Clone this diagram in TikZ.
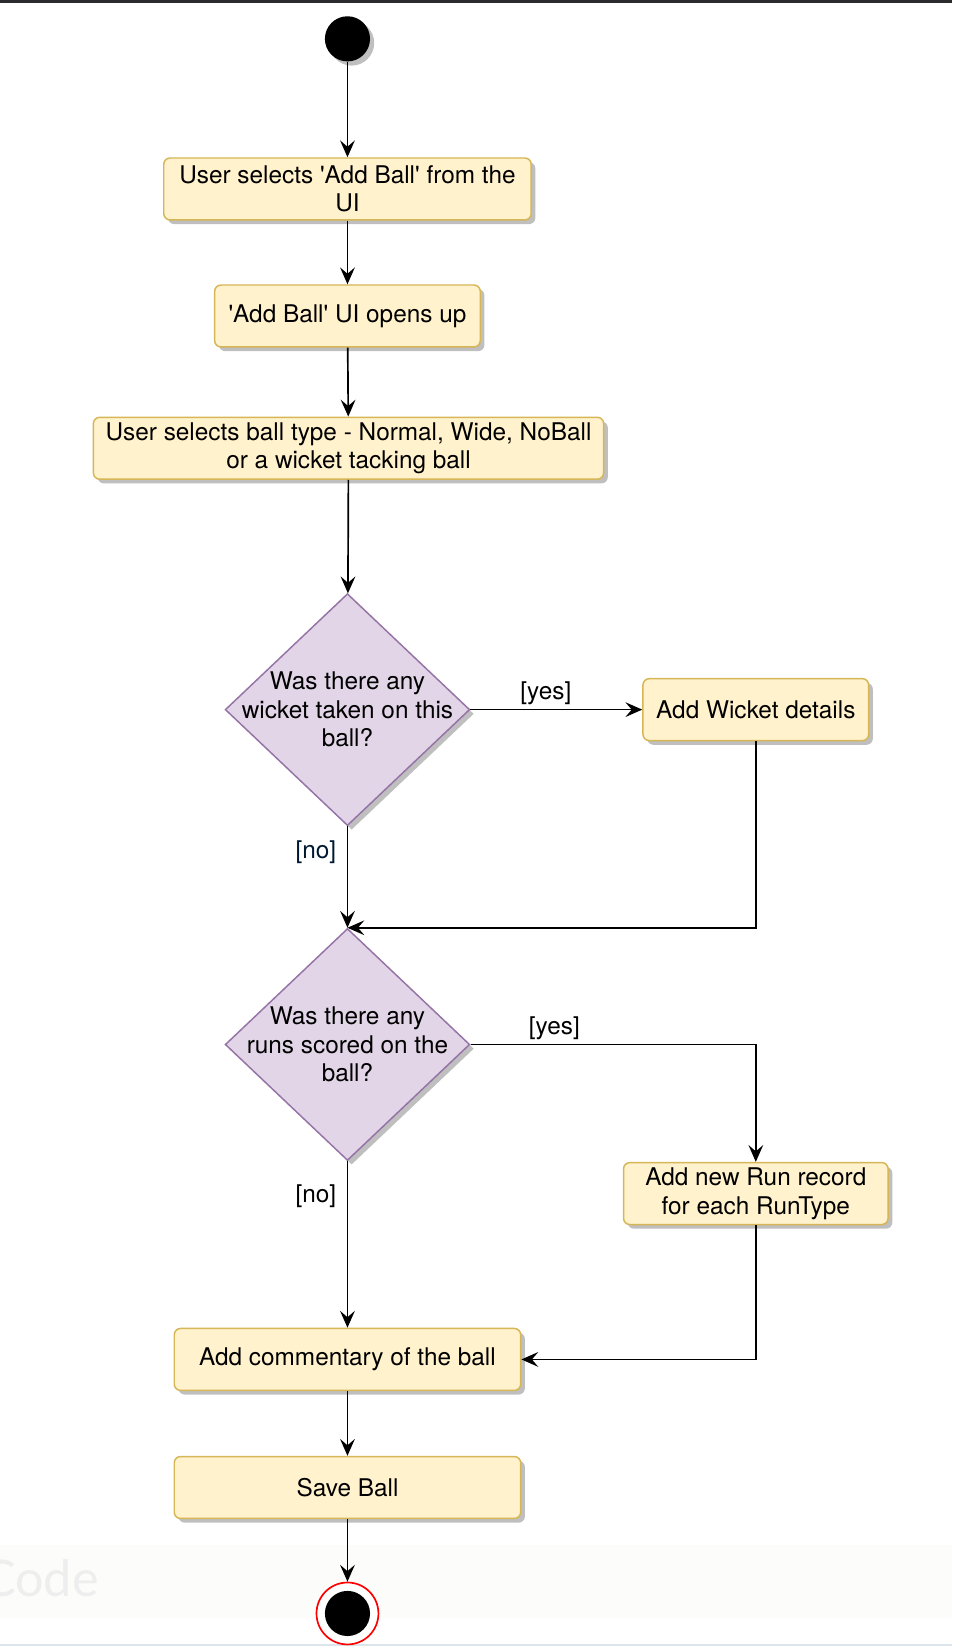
\documentclass[tikz,border=0pt]{standalone}
\usepackage{fontspec}
\setmainfont{TeX Gyre Heros}[Ligatures=TeXOff]
\newfontfamily\markfont{Lato}
\usetikzlibrary{arrows.meta,shapes.geometric,shadows}
\definecolor{boxfill}{HTML}{FFF2CC}
\definecolor{boxline}{HTML}{D6B656}
\definecolor{decfill}{HTML}{E1D5E7}
\definecolor{decline}{HTML}{9673A6}
\definecolor{nocol}{HTML}{001933}
\definecolor{barcol}{HTML}{2B2B2D}
\definecolor{bandcol}{HTML}{FCFCFA}
\definecolor{markcol}{HTML}{EEEEEE}
\definecolor{edgecol}{HTML}{DCE4EC}

\begin{document}
\begin{tikzpicture}[x=0.5pt,y=-0.5pt,
    every node/.style={font=\fontsize{11.6}{13.6}\selectfont},
    shade/.style={drop shadow={shadow xshift=2pt,shadow yshift=-2pt,fill=black!25,opacity=1}},
    action/.style={draw=boxline,fill=boxfill,rounded corners=3pt,line width=0.7pt,
        align=center,inner sep=0pt,minimum height=29.5pt,shade},
    decision/.style={diamond,draw=decline,fill=decfill,line width=0.7pt,inner sep=0pt,
        minimum width=116.5pt,minimum height=110.5pt,shade},
    flow/.style={-{Stealth[length=8pt,width=7pt,inset=3pt]},line width=0.8pt},
    guard/.style={inner sep=1pt}]
    \useasboundingbox (0,0) rectangle (907,1568);
    \fill[bandcol] (0,1472) rectangle (907,1541);
    \fill[barcol] (0,0) rectangle (907,3);
    \fill[edgecol] (0,1566) rectangle (907,1568);
    \node[anchor=base east,text=markcol,font=\markfont\fontsize{24}{24}\selectfont] (mark) at (101,1521) {Code};

    \node[fill,circle,minimum size=21.5pt,inner sep=0pt,shade] (start) at (331,37) {};
    \node[action,minimum width=175pt] (select) at (331,180) {User selects 'Add Ball' from the\\UI};
    \node[action,minimum width=126.5pt] (opens) at (331,301) {'Add Ball' UI opens up};
    \node[action,minimum width=243pt] (balltype) at (332,427) {User selects ball type - Normal, Wide, NoBall\\or a wicket tacking ball};

    \node[decision] (wicketq) at (331,676) {};
    \node[align=center] (wicketqtext) at (wicketq) {Was there any\\wicket taken on this\\ball?};
    \node[action,minimum width=107.5pt] (wicket) at (720,676) {Add Wicket details};

    \node[decision] (runsq) at (331,995) {};
    \node[align=center] (runsqtext) at (runsq) {Was there any\\runs scored on the\\ball?};
    \node[action,minimum width=126pt] (run) at (720,1137) {Add new Run record\\for each RunType};

    \node[action,minimum width=165pt] (comment) at (331,1295) {Add commentary of the ball};
    \node[action,minimum width=165pt] (save) at (331,1417) {Save Ball};
    \node[circle,draw=red,line width=0.8pt,fill=white,minimum size=29.5pt,inner sep=0pt] (stop) at (331,1537) {};
    \node[circle,fill=black,minimum size=21.5pt,inner sep=0pt] (stopdot) at (stop) {};

    \draw[flow] (start) -- (select);
    \draw[flow] (select) -- (opens);
    \draw[flow] (opens) -- (balltype);
    \draw[flow] (balltype) -- (wicketq);
    \draw[flow] (wicketq) -- node[guard,above=1pt,xshift=-5pt] {[yes]} (wicket);
    \draw[flow] (wicketq) -- node[guard,left=4pt,pos=0.25,text=nocol] {[no]} (runsq);
    \draw[flow] (wicket) |- (runsq.north);
    \draw[flow] (runsq) -| node[guard,above=1pt,pos=0.147] {[yes]} (run);
    \draw[flow] (runsq) -- node[guard,left=4pt,pos=0.21] {[no]} (comment);
    \draw[flow] (run) |- (comment);
    \draw[flow] (comment) -- (save);
    \draw[flow] (save) -- (stop);
\end{tikzpicture}
\end{document}
